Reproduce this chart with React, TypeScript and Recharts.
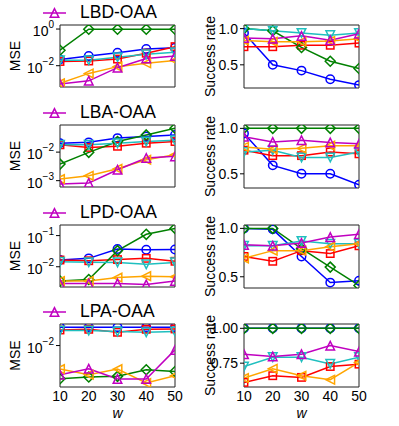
import * as React from 'react';
import { LineChart, Line, XAxis, YAxis, ReferenceArea, Legend } from 'recharts';

const wValues = [10, 20, 30, 40, 50];
const methodNames = ['LBD-OAA', 'LBA-OAA', 'LPD-OAA', 'LPA-OAA'];

// series order: circle, square, diamond, triangle-down, triangle-left, triangle-up (the OAA method)
const mseLBD = [
  [0.022, 0.034, 0.051, 0.081, 0.096],
  [0.017, 0.018, 0.023, 0.048, 0.11],
  [0.07, 0.98, 0.98, 0.98, 0.98],
  [0.02, 0.02, 0.029, 0.042, 0.054],
  [0.0011, 0.0038, 0.0089, 0.0135, 0.019],
  [0.001, 0.0015, 0.0078, 0.025, 0.034],
];
const srLBD = [
  [0.94, 0.5, 0.42, 0.3, 0.22],
  [0.75, 0.75, 0.77, 0.77, 0.8],
  [1.0, 0.97, 0.74, 0.55, 0.45],
  [1.0, 0.97, 0.94, 0.91, 0.94],
  [0.835, 0.82, 0.82, 0.83, 0.86],
  [0.87, 0.86, 0.9, 0.84, 0.93],
];

const mseLBA = [
  [0.0205, 0.022, 0.031, 0.035, 0.04],
  [0.018, 0.0146, 0.016, 0.0205, 0.0235],
  [0.0038, 0.0098, 0.0235, 0.04, 0.069],
  [0.018, 0.018, 0.0205, 0.0235, 0.026],
  [0.00114, 0.00149, 0.0026, 0.0054, 0.0081],
  [0.00076, 0.00083, 0.0024, 0.0062, 0.0071],
];
const srLBA = [
  [0.944, 0.593, 0.5, 0.5, 0.38],
  [0.76, 0.7, 0.7, 0.74, 0.72],
  [1.0, 1.0, 1.0, 1.0, 1.0],
  [0.74, 0.76, 0.68, 0.68, 0.74],
  [0.796, 0.77, 0.78, 0.81, 0.81],
  [0.907, 0.85, 0.87, 0.845, 0.83],
];

const mseLPD = [
  [0.0165, 0.0186, 0.037, 0.035, 0.036],
  [0.0165, 0.0156, 0.017, 0.0186, 0.015],
  [0.0035, 0.0039, 0.033, 0.11, 0.17],
  [0.0145, 0.014, 0.0138, 0.012, 0.0138],
  [0.0035, 0.0035, 0.0045, 0.005, 0.0048],
  [0.0029, 0.0029, 0.0029, 0.0027, 0.0035],
];
const srLPD = [
  [1.0, 0.99, 0.71, 0.44, 0.46],
  [0.71, 0.66, 0.77, 0.74, 0.82],
  [1.0, 1.0, 0.79, 0.6, 0.41],
  [0.82, 0.82, 0.87, 0.84, 0.84],
  [0.69, 0.77, 0.77, 0.81, 0.84],
  [0.83, 0.82, 0.85, 0.91, 0.94],
];

const mseLPA = [
  [0.032, 0.032, 0.032, 0.032, 0.032],
  [0.0267, 0.0279, 0.0231, 0.0279, 0.0285],
  [0.00123, 0.00137, 0.00143, 0.00217, 0.00195],
  [0.0257, 0.0257, 0.0241, 0.0231, 0.0241],
  [0.00226, 0.00158, 0.00226, 0.00094, 0.00149],
  [0.00158, 0.00231, 0.00121, 0.00121, 0.0076],
];
const srLPA = [
  [1.0, 1.0, 1.0, 1.0, 1.0],
  [0.612, 0.66, 0.648, 0.726, 0.743],
  [1.0, 1.0, 1.0, 1.0, 1.0],
  [0.726, 0.793, 0.793, 0.745, 0.793],
  [0.643, 0.71, 0.66, 0.631, 0.755],
  [0.814, 0.798, 0.814, 0.876, 0.833],
];

const FONT = '"Liberation Sans", Arial, sans-serif';

const seriesStyles = [
  { color: '#0000ff', shape: 'circle' },
  { color: '#ff0000', shape: 'square' },
  { color: '#008000', shape: 'diamond' },
  { color: '#1fbfbf', shape: 'triDown' },
  { color: '#ffa500', shape: 'triLeft' },
  { color: '#c000c0', shape: 'triUp' },
];

const rowsConfig = [
  { name: methodNames[0], mse: mseLBD, sr: srLBD, mseDomain: [0.00069, 1.66], mseTicks: [1, 0.01], srDomain: [0.18, 1.05], srTicks: [0.5, 1.0], digits: 1 },
  { name: methodNames[1], mse: mseLBA, sr: srLBA, mseDomain: [0.0006, 0.089], mseTicks: [0.01, 0.001], srDomain: [0.344, 1.037], srTicks: [0.5, 1.0], digits: 1 },
  { name: methodNames[2], mse: mseLPD, sr: srLPD, mseDomain: [0.00224, 0.219], mseTicks: [0.1, 0.01], srDomain: [0.384, 1.035], srTicks: [0.5, 1.0], digits: 1 },
  { name: methodNames[3], mse: mseLPA, sr: srLPA, mseDomain: [0.00073, 0.039], mseTicks: [0.01], srDomain: [0.579, 1.031], srTicks: [0.75, 1.0], digits: 2 },
];

const toRows = (series: number[][]) =>
  wValues.map((w, i) => {
    const r: any = { w };
    series.forEach((s, k) => (r['s' + k] = s[i]));
    return r;
  });

const renderMarker = (shape: string, cx: number, cy: number, color: string, key?: string) => {
  const common = { fill: 'none', stroke: color, strokeWidth: 1.5, key };
  const r = 4.3;
  switch (shape) {
    case 'circle':
      return <circle cx={cx} cy={cy} r={4.2} {...common} />;
    case 'square':
      return <rect x={cx - 3.7} y={cy - 3.7} width={7.4} height={7.4} {...common} />;
    case 'diamond':
      return <polygon points={`${cx},${cy - 5} ${cx + 5},${cy} ${cx},${cy + 5} ${cx - 5},${cy}`} {...common} />;
    case 'triDown':
      return <polygon points={`${cx},${cy + r} ${cx - r},${cy - r} ${cx + r},${cy - r}`} {...common} />;
    case 'triLeft':
      return <polygon points={`${cx - r},${cy} ${cx + r},${cy - r} ${cx + r},${cy + r}`} {...common} />;
    default:
      return <polygon points={`${cx},${cy - r} ${cx - r},${cy + r} ${cx + r},${cy + r}`} {...common} />;
  }
};

const LogTick = (props: any) => {
  const { x, y, payload } = props;
  const exp = Math.round(Math.log10(payload.value));
  const expText = exp < 0 ? '\u2212' + -exp : String(exp);
  return (
    <text x={x} y={y + 7} textAnchor="end" fontSize={14} fontFamily={FONT} fill="#000">
      10<tspan dy={-8} fontSize={10}>{expText}</tspan>
    </text>
  );
};

const renderLegend = (props: any) => {
  const items = (props.payload || []).filter((p: any) => p.type !== 'none');
  return (
    <div>
      {items.map((it: any) => (
        <div key={it.value} style={{ display: 'flex', alignItems: 'center', whiteSpace: 'nowrap', fontFamily: FONT, fontSize: 17.5, color: '#000' }}>
          <svg width={23} height={14}>
            <line x1={0} y1={7} x2={23} y2={7} stroke={it.color} strokeWidth={1.5} />
            {renderMarker('triUp', 11.5, 7, it.color)}
          </svg>
          <span style={{ marginLeft: 14 }}>{it.value}</span>
        </div>
      ))}
    </div>
  );
};

interface PanelProps {
  series: number[][];
  kind: 'mse' | 'sr';
  domain: number[];
  ticks: number[];
  digits: number;
  bottomRow: boolean;
  legendName?: string;
}

const Panel: React.FC<PanelProps> = ({ series, kind, domain, ticks, digits, bottomRow, legendName }) => {
  const isLeft = kind === 'mse';
  const width = isLeft ? 200 : 199;
  const height = bottomRow ? 127 : 100;
  const margin = isLeft
    ? { top: 25, right: 25, left: 20, bottom: bottomRow ? 9 : 13 }
    : { top: 25, right: 40, left: 4, bottom: bottomRow ? 9 : 12 };
  const labelX = isLeft ? 15 : 10;
  const data = toRows(series);

  return (
    <LineChart width={width} height={height} data={data} margin={margin}>
      <XAxis
        dataKey="w"
        type="number"
        domain={[10, 50]}
        ticks={wValues}
        allowDataOverflow
        hide={!bottomRow}
        height={30}
        axisLine={false}
        tickLine={false}
        tickSize={3}
        tickMargin={1}
        interval={0}
        tick={{ fill: '#000', fontSize: 14, fontFamily: FONT }}
        label={{
          content: (p: any) => {
            const vb = p.viewBox || { x: 0, y: 0, width: 0 };
            return (
              <text x={vb.x + vb.width / 2} y={vb.y + 31} textAnchor="middle" fontStyle="italic" fontSize={14} fontFamily={FONT} fill="#000">
                w
              </text>
            );
          },
        }}
      />
      <YAxis
        type="number"
        scale={isLeft ? 'log' : 'linear'}
        domain={domain}
        allowDataOverflow
        ticks={ticks}
        interval={0}
        width={40}
        axisLine={false}
        tickLine={{ stroke: '#000' }}
        tickSize={4}
        tickMargin={2}
        tick={isLeft ? <LogTick /> : { fill: '#000', fontSize: 14, fontFamily: FONT }}
        tickFormatter={isLeft ? undefined : (v: number) => v.toFixed(digits)}
        label={{
          content: (p: any) => {
            const vb = p.viewBox || { y: 0, height: 0 };
            const cy = vb.y + vb.height / 2;
            return (
              <text
                x={labelX}
                y={cy}
                transform={`rotate(-90 ${labelX} ${cy})`}
                textAnchor="middle"
                dominantBaseline="central"
                fontSize={14}
                fontFamily={FONT}
                fill="#000"
              >
                {isLeft ? 'MSE' : 'Success rate'}
              </text>
            );
          },
        }}
      />
      <ReferenceArea x1={10} x2={50} y1={domain[0]} y2={domain[1]} fill="none" fillOpacity={0} stroke="#222" strokeWidth={1} ifOverflow="visible" />
      {seriesStyles.map((st, k) => (
        <Line
          key={k}
          dataKey={'s' + k}
          name={k === 5 && legendName ? legendName : 's' + k}
          legendType={k === 5 && legendName ? 'line' : 'none'}
          stroke={st.color}
          strokeWidth={1.5}
          isAnimationActive={false}
          activeDot={false}
          dot={(p: any) => renderMarker(st.shape, p.cx, p.cy, st.color, `d-${k}-${p.index}`)}
        />
      ))}
      {legendName && (
        <Legend
          layout="horizontal"
          verticalAlign="middle"
          align="center"
          wrapperStyle={{ top: 2, left: 43, width: 'auto', height: 'auto' }}
          content={renderLegend}
        />
      )}
    </LineChart>
  );
};

export default function App() {
  return (
    <div style={{ position: 'absolute', left: 0, top: 0, width: 399, height: 426, background: '#fff', fontFamily: FONT }}>
      {rowsConfig.map((row, i) => {
        const top = i === 3 ? 299 : i * 100;
        const bottomRow = i === 3;
        return (
          <React.Fragment key={row.name}>
            <div style={{ position: 'absolute', left: 0, top }}>
              <Panel series={row.mse} kind="mse" domain={row.mseDomain} ticks={row.mseTicks} digits={row.digits} bottomRow={bottomRow} legendName={row.name} />
            </div>
            <div style={{ position: 'absolute', left: 200, top }}>
              <Panel series={row.sr} kind="sr" domain={row.srDomain} ticks={row.srTicks} digits={row.digits} bottomRow={bottomRow} />
            </div>
          </React.Fragment>
        );
      })}
    </div>
  );
}
